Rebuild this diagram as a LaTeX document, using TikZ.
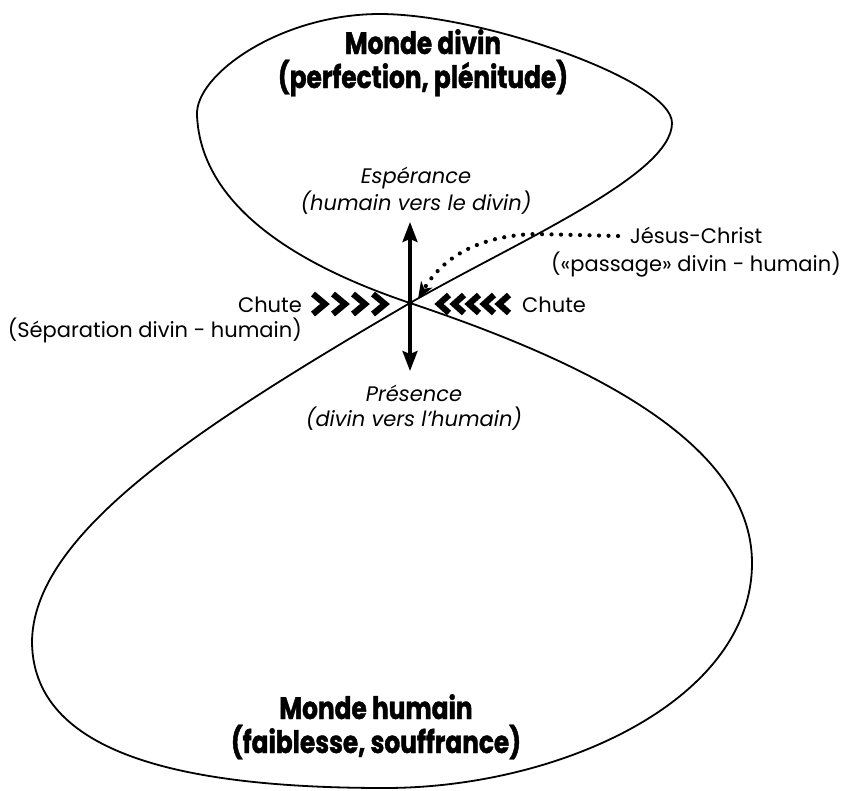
\documentclass[tikz,border=0pt]{standalone}
\usepackage{fontspec}
\setmainfont{Poppins}
\newfontfamily\headfont{Poppins}[FakeStretch=0.8, BoldFeatures={FakeBold=1.3}]
\usetikzlibrary{arrows.meta}

\begin{document}
\begin{tikzpicture}[x=1pt,y=-1pt,
  outline/.style={line width=1.8pt, line join=round},
  axis/.style={line width=3.2pt,
    {Stealth[length=20pt,width=15pt,inset=3pt]}-{Stealth[length=20pt,width=15pt,inset=3pt]}},
  dots/.style={line width=4.2pt, line cap=round, dash pattern=on 0pt off 9.5pt,
    -{Stealth[length=17pt,width=13pt,inset=5pt]}},
  chev/.style={line width=6.2pt, miter limit=10},
  title/.style={font=\headfont\bfseries\fontsize{31}{34}\selectfont, align=center, anchor=base, inner sep=0pt},
  lbl/.style={font=\fontsize{21}{25}\selectfont, anchor=base, inner sep=0pt},
  note/.style={lbl, font=\fontsize{21}{25}\selectfont\itshape, align=center}
]
\useasboundingbox (0,0) rectangle (843,790);

% crossing point of the figure eight
\coordinate (X) at (410,303);

% figure-eight outline: lower loop, then upper loop, both through X
\draw[outline] (X)
  .. controls (194,429) and (32,535) .. (32,643)
  .. controls (34,760) and (200,788) .. (385,788)
  .. controls (560,788) and (752,700) .. (752,563)
  .. controls (752,440) and (580,360) .. (X)
  .. controls (267,255) and (200,190) .. (197,115)
  .. controls (195,75) and (280,14) .. (380,14)
  .. controls (480,14) and (672,80) .. (672,123)
  .. controls (672,175) and (520,240) .. (X);

% double arrow through the crossing
\coordinate (up) at (410,222);
\coordinate (down) at (410,371);
\draw[axis] (down) -- (up);

% Jesus-Christ passage
\coordinate (jc) at (618,236);
\coordinate (jtip) at (418,299);
\draw[dots] (jc) -- (535,234) .. controls (472,236) and (440,262) .. (jtip);

% chevrons pointing at the crossing
\foreach \x in {312,332,352,372}
  \draw[chev] (\x+1,294) -- (\x+13,304) -- (\x+1,314);
\foreach \x in {437,452,467,482,497}
  \draw[chev] (\x+12,295) -- (\x+2,304) -- (\x+12,313);

% labels
\node[title] (divin) at (423,88) {Monde divin\\(perfection, plénitude)};
\node[title] (humain) at (376,753) {Monde humain\\(faiblesse, souffrance)};
\node[note] (esp) at (416,210) {Espérance\\(humain vers le divin)};
\node[note] (pres) at (414,426) {Présence\\(divin vers l’humain)};
\node[lbl, anchor=base east, align=right] (chuteL) at (302,337) {Chute\\(Séparation divin - humain)};
\node[lbl, anchor=base west] (chuteR) at (522,312) {Chute};
\node[lbl, align=center, font=\fontsize{21}{28}\selectfont] (jesus) at (696,271) {Jésus-Christ\\(«passage» divin - humain)};
\end{tikzpicture}
\end{document}
